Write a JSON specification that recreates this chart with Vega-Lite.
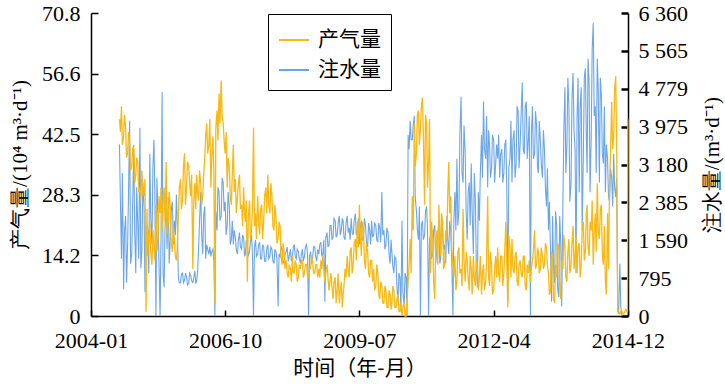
{
  "$schema": "https://vega.github.io/schema/vega-lite/v6.json",
  "width": 537,
  "height": 303,
  "autosize": {"type": "none"},
  "padding": {"left": 91, "top": 13, "right": 97, "bottom": 68},
  "background": "white",
  "config": {
    "view": {"stroke": null},
    "font": "Liberation Serif",
    "axis": {
      "grid": false,
      "domainColor": "black",
      "domainWidth": 1.5,
      "tickColor": "black",
      "labelColor": "black",
      "titleColor": "black",
      "labelFont": "Liberation Serif",
      "labelFontSize": 22,
      "titleFont": "Liberation Serif",
      "titleFontSize": 21,
      "titleFontWeight": "normal"
    },
    "legend": {
      "labelFont": "Noto Sans CJK SC",
      "labelFontSize": 21,
      "labelColor": "black"
    }
  },
  "data": {"values": [
    {"d":"2004-08-01","g":46,"w":3600},{"d":"2004-08-08","g":43,"w":2400},{"d":"2004-08-16","g":49,"w":1200},{"d":"2004-08-23","g":40,"w":3000},
    {"d":"2004-09-01","g":42,"w":560},{"d":"2004-09-08","g":47,"w":1800},{"d":"2004-09-16","g":44,"w":2100},{"d":"2004-09-23","g":37,"w":700},
    {"d":"2004-10-01","g":38,"w":1500},{"d":"2004-10-08","g":43,"w":2600},{"d":"2004-10-16","g":41,"w":4100},{"d":"2004-10-23","g":34,"w":1100},
    {"d":"2004-11-01","g":35,"w":1300},{"d":"2004-11-08","g":39,"w":2400},{"d":"2004-11-16","g":40,"w":3500},{"d":"2004-11-23","g":31,"w":1800},
    {"d":"2004-12-01","g":33,"w":900},{"d":"2004-12-08","g":37,"w":2700},{"d":"2004-12-16","g":36,"w":1900},{"d":"2004-12-23","g":29,"w":1200},
    {"d":"2005-01-01","g":30,"w":3950},{"d":"2005-01-08","g":27,"w":1000},{"d":"2005-01-16","g":34,"w":1400},{"d":"2005-01-23","g":29,"w":2800},
    {"d":"2005-02-01","g":28,"w":2300},{"d":"2005-02-08","g":32,"w":500},{"d":"2005-02-16","g":1,"w":700},{"d":"2005-02-23","g":25,"w":1900},
    {"d":"2005-03-01","g":14,"w":1800},{"d":"2005-03-08","g":19,"w":900},{"d":"2005-03-16","g":22,"w":3400},{"d":"2005-03-23","g":15,"w":2100},
    {"d":"2005-04-01","g":12,"w":1500},{"d":"2005-04-08","g":20,"w":3100},{"d":"2005-04-16","g":16,"w":3700},{"d":"2005-04-23","g":13,"w":2500},
    {"d":"2005-05-01","g":26,"w":0},{"d":"2005-05-08","g":15,"w":2900},{"d":"2005-05-16","g":18,"w":2200},{"d":"2005-05-23","g":28,"w":1200},
    {"d":"2005-06-01","g":24,"w":0},{"d":"2005-06-08","g":30,"w":1700},{"d":"2005-06-16","g":20,"w":4700},{"d":"2005-06-23","g":27,"w":900},
    {"d":"2005-07-01","g":30,"w":600},{"d":"2005-07-08","g":22,"w":1900},{"d":"2005-07-16","g":36,"w":2300},{"d":"2005-07-23","g":19,"w":1400},
    {"d":"2005-08-01","g":22,"w":2500},{"d":"2005-08-08","g":29,"w":1100},{"d":"2005-08-16","g":26,"w":1600},{"d":"2005-08-23","g":17,"w":2200},
    {"d":"2005-09-01","g":15,"w":2400},{"d":"2005-09-08","g":21,"w":1500},{"d":"2005-09-16","g":18,"w":2000},{"d":"2005-09-23","g":14,"w":1700},
    {"d":"2005-10-01","g":13,"w":2550},{"d":"2005-10-08","g":16,"w":1900},{"d":"2005-10-16","g":24,"w":800},{"d":"2005-10-23","g":30,"w":700},
    {"d":"2005-11-01","g":32,"w":700},{"d":"2005-11-08","g":25,"w":880},{"d":"2005-11-16","g":27,"w":900},{"d":"2005-11-23","g":35,"w":700},
    {"d":"2005-12-01","g":38,"w":750},{"d":"2005-12-08","g":26,"w":900},{"d":"2005-12-16","g":30,"w":820},{"d":"2005-12-23","g":36,"w":650},
    {"d":"2006-01-01","g":35,"w":680},{"d":"2006-01-08","g":31,"w":900},{"d":"2006-01-16","g":28,"w":850},{"d":"2006-01-23","g":33,"w":740},
    {"d":"2006-02-01","g":11,"w":700},{"d":"2006-02-08","g":27,"w":800},{"d":"2006-02-16","g":31,"w":950},{"d":"2006-02-23","g":25,"w":680},
    {"d":"2006-03-01","g":33,"w":720},{"d":"2006-03-08","g":29,"w":900},{"d":"2006-03-16","g":27,"w":1400},{"d":"2006-03-23","g":34,"w":2000},
    {"d":"2006-04-01","g":31,"w":2600},{"d":"2006-04-08","g":26,"w":1700},{"d":"2006-04-16","g":28,"w":1300},{"d":"2006-04-23","g":33,"w":2100},
    {"d":"2006-05-01","g":37,"w":2300},{"d":"2006-05-08","g":42,"w":1200},{"d":"2006-05-16","g":45,"w":1500},{"d":"2006-05-23","g":38,"w":1400},
    {"d":"2006-06-01","g":40,"w":1300},{"d":"2006-06-08","g":46,"w":1450},{"d":"2006-06-16","g":30,"w":1250},{"d":"2006-06-23","g":37,"w":1350},
    {"d":"2006-07-01","g":42,"w":1400},{"d":"2006-07-08","g":34,"w":1200},{"d":"2006-07-16","g":3,"w":0},{"d":"2006-07-23","g":44,"w":2200},
    {"d":"2006-08-01","g":48,"w":1800},{"d":"2006-08-08","g":41,"w":2700},{"d":"2006-08-16","g":52,"w":2600},{"d":"2006-08-23","g":45,"w":2000},
    {"d":"2006-09-01","g":55,"w":2100},{"d":"2006-09-08","g":47,"w":2900},{"d":"2006-09-16","g":45,"w":2800},{"d":"2006-09-23","g":41,"w":2200},
    {"d":"2006-10-01","g":38,"w":2400},{"d":"2006-10-08","g":43,"w":1700},{"d":"2006-10-16","g":30,"w":1900},{"d":"2006-10-23","g":37,"w":2600},
    {"d":"2006-11-01","g":35,"w":2300},{"d":"2006-11-08","g":28,"w":1500},{"d":"2006-11-16","g":26,"w":1600},{"d":"2006-11-23","g":33,"w":2000},
    {"d":"2006-12-01","g":40,"w":1500},{"d":"2006-12-08","g":29,"w":1800},{"d":"2006-12-16","g":32,"w":1650},{"d":"2006-12-23","g":24,"w":1400},
    {"d":"2007-01-01","g":28,"w":1300},{"d":"2007-01-08","g":31,"w":1600},{"d":"2007-01-16","g":33,"w":1750},{"d":"2007-01-23","g":25,"w":1450},
    {"d":"2007-02-01","g":26,"w":1400},{"d":"2007-02-08","g":21,"w":1700},{"d":"2007-02-16","g":30,"w":1650},{"d":"2007-02-23","g":24,"w":1250},
    {"d":"2007-03-01","g":22,"w":1300},{"d":"2007-03-08","g":27,"w":1600},{"d":"2007-03-16","g":8,"w":1500},{"d":"2007-03-23","g":23,"w":1250},
    {"d":"2007-04-01","g":27,"w":1350},{"d":"2007-04-08","g":18,"w":1550},{"d":"2007-04-16","g":20,"w":1700},{"d":"2007-04-23","g":25,"w":1300},
    {"d":"2007-05-01","g":44,"w":0},{"d":"2007-05-08","g":21,"w":1450},{"d":"2007-05-16","g":24,"w":1600},{"d":"2007-05-23","g":18,"w":1250},
    {"d":"2007-06-01","g":28,"w":1300},{"d":"2007-06-08","g":22,"w":1500},{"d":"2007-06-16","g":19,"w":1550},{"d":"2007-06-23","g":25,"w":1200},
    {"d":"2007-07-01","g":26,"w":1200},{"d":"2007-07-08","g":18,"w":1500},{"d":"2007-07-16","g":22,"w":1450},{"d":"2007-07-23","g":28,"w":1150},
    {"d":"2007-08-01","g":30,"w":1150},{"d":"2007-08-08","g":24,"w":1400},{"d":"2007-08-16","g":33,"w":1500},{"d":"2007-08-23","g":26,"w":1200},
    {"d":"2007-09-01","g":24,"w":1250},{"d":"2007-09-08","g":31,"w":1450},{"d":"2007-09-16","g":28,"w":1400},{"d":"2007-09-23","g":21,"w":1150},
    {"d":"2007-10-01","g":20,"w":1100},{"d":"2007-10-08","g":26,"w":1400},{"d":"2007-10-16","g":23,"w":1350},{"d":"2007-10-23","g":17,"w":1200},
    {"d":"2007-11-01","g":18,"w":200},{"d":"2007-11-08","g":22,"w":1300},{"d":"2007-11-16","g":21,"w":1250},{"d":"2007-11-23","g":14,"w":1450},
    {"d":"2007-12-01","g":12,"w":1400},{"d":"2007-12-08","g":17,"w":1150},{"d":"2007-12-16","g":15,"w":1100},{"d":"2007-12-23","g":11,"w":1300},
    {"d":"2008-01-01","g":13,"w":1350},{"d":"2008-01-08","g":10,"w":1450},{"d":"2008-01-16","g":9,"w":1150},{"d":"2008-01-23","g":12,"w":1250},
    {"d":"2008-02-01","g":11,"w":1400},{"d":"2008-02-08","g":8,"w":1150},{"d":"2008-02-16","g":14,"w":1250},{"d":"2008-02-23","g":10,"w":1450},
    {"d":"2008-03-01","g":10,"w":1500},{"d":"2008-03-08","g":13,"w":1250},{"d":"2008-03-16","g":12,"w":1200},{"d":"2008-03-23","g":8,"w":1400},
    {"d":"2008-04-01","g":9,"w":1350},{"d":"2008-04-08","g":12,"w":1200},{"d":"2008-04-16","g":11,"w":1100},{"d":"2008-04-23","g":13,"w":1300},
    {"d":"2008-05-01","g":13,"w":1400},{"d":"2008-05-08","g":9,"w":1150},{"d":"2008-05-16","g":10,"w":1250},{"d":"2008-05-23","g":12,"w":1450},
    {"d":"2008-06-01","g":12,"w":1500},{"d":"2008-06-08","g":10,"w":1300},{"d":"2008-06-16","g":9,"w":0},{"d":"2008-06-23","g":11,"w":1250},
    {"d":"2008-07-01","g":11,"w":1350},{"d":"2008-07-08","g":14,"w":1100},{"d":"2008-07-16","g":13,"w":1200},{"d":"2008-07-23","g":10,"w":1450},
    {"d":"2008-08-01","g":10,"w":1450},{"d":"2008-08-08","g":12,"w":1250},{"d":"2008-08-16","g":12,"w":1150},{"d":"2008-08-23","g":9,"w":1400},
    {"d":"2008-09-01","g":11,"w":1300},{"d":"2008-09-08","g":9,"w":1500},{"d":"2008-09-16","g":13,"w":1550},{"d":"2008-09-23","g":11,"w":1250},
    {"d":"2008-10-01","g":14,"w":1300},{"d":"2008-10-08","g":11,"w":1600},{"d":"2008-10-16","g":8,"w":300},{"d":"2008-10-23","g":10,"w":1650},
    {"d":"2008-11-01","g":12,"w":1750},{"d":"2008-11-08","g":9,"w":1450},{"d":"2008-11-16","g":6,"w":1500},{"d":"2008-11-23","g":8,"w":1900},
    {"d":"2008-12-01","g":10,"w":1900},{"d":"2008-12-08","g":7,"w":1600},{"d":"2008-12-16","g":4,"w":1650},{"d":"2008-12-23","g":8,"w":2050},
    {"d":"2009-01-01","g":9,"w":2000},{"d":"2009-01-08","g":3,"w":1650},{"d":"2009-01-16","g":6,"w":1700},{"d":"2009-01-23","g":10,"w":1950},
    {"d":"2009-02-01","g":3,"w":2100},{"d":"2009-02-08","g":6,"w":1700},{"d":"2009-02-16","g":8,"w":1800},{"d":"2009-02-23","g":2,"w":2050},
    {"d":"2009-03-01","g":5,"w":2000},{"d":"2009-03-08","g":7,"w":1650},{"d":"2009-03-16","g":11,"w":1600},{"d":"2009-03-23","g":9,"w":1950},
    {"d":"2009-04-01","g":14,"w":2100},{"d":"2009-04-08","g":11,"w":1750},{"d":"2009-04-16","g":9,"w":1850},{"d":"2009-04-23","g":15,"w":1600},
    {"d":"2009-05-01","g":16,"w":2050},{"d":"2009-05-08","g":10,"w":1750},{"d":"2009-05-16","g":12,"w":1700},{"d":"2009-05-23","g":17,"w":2000},
    {"d":"2009-06-01","g":18,"w":2150},{"d":"2009-06-08","g":13,"w":1700},{"d":"2009-06-16","g":22,"w":1800},{"d":"2009-06-23","g":16,"w":2050},
    {"d":"2009-07-01","g":26,"w":1500},{"d":"2009-07-08","g":19,"w":1850},{"d":"2009-07-16","g":14,"w":2000},{"d":"2009-07-23","g":22,"w":1600},
    {"d":"2009-08-01","g":20,"w":1650},{"d":"2009-08-08","g":13,"w":2050},{"d":"2009-08-16","g":11,"w":1900},{"d":"2009-08-23","g":17,"w":1550},
    {"d":"2009-09-01","g":15,"w":1450},{"d":"2009-09-08","g":10,"w":1950},{"d":"2009-09-16","g":9,"w":1800},{"d":"2009-09-23","g":13,"w":1500},
    {"d":"2009-10-01","g":13,"w":2000},{"d":"2009-10-08","g":8,"w":1650},{"d":"2009-10-16","g":11,"w":1700},{"d":"2009-10-23","g":6,"w":1950},
    {"d":"2009-11-01","g":7,"w":1900},{"d":"2009-11-08","g":12,"w":1600},{"d":"2009-11-16","g":10,"w":1550},{"d":"2009-11-23","g":5,"w":1950},
    {"d":"2009-12-01","g":4,"w":1850},{"d":"2009-12-08","g":8,"w":1550},{"d":"2009-12-16","g":7,"w":2600},{"d":"2009-12-23","g":3,"w":1700},
    {"d":"2010-01-01","g":3,"w":1800},{"d":"2010-01-08","g":7,"w":1400},{"d":"2010-01-16","g":6,"w":1500},{"d":"2010-01-23","g":2,"w":1850},
    {"d":"2010-02-01","g":2,"w":1750},{"d":"2010-02-08","g":6,"w":1300},{"d":"2010-02-16","g":5,"w":1100},{"d":"2010-02-23","g":1.5,"w":1600},
    {"d":"2010-03-01","g":3,"w":1350},{"d":"2010-03-08","g":7,"w":1050},{"d":"2010-03-16","g":6,"w":900},{"d":"2010-03-23","g":2,"w":1250},
    {"d":"2010-04-01","g":2,"w":1200},{"d":"2010-04-08","g":4,"w":600},{"d":"2010-04-16","g":5,"w":300},{"d":"2010-04-23","g":1,"w":900},
    {"d":"2010-05-01","g":1,"w":800},{"d":"2010-05-08","g":3,"w":100},{"d":"2010-05-16","g":0,"w":2000},{"d":"2010-05-23","g":2,"w":500},
    {"d":"2010-06-01","g":3,"w":200},{"d":"2010-06-08","g":0,"w":900},{"d":"2010-06-16","g":0,"w":800},{"d":"2010-06-23","g":4,"w":0},
    {"d":"2010-07-01","g":8,"w":3800},{"d":"2010-07-08","g":12,"w":3500},{"d":"2010-07-16","g":18,"w":4100},{"d":"2010-07-23","g":10,"w":3700},
    {"d":"2010-08-01","g":28,"w":3700},{"d":"2010-08-08","g":20,"w":4000},{"d":"2010-08-16","g":45,"w":4200},{"d":"2010-08-23","g":35,"w":2500},
    {"d":"2010-09-01","g":38,"w":2200},{"d":"2010-09-08","g":47,"w":1800},{"d":"2010-09-16","g":48,"w":1600},{"d":"2010-09-23","g":40,"w":2300},
    {"d":"2010-10-01","g":44,"w":0},{"d":"2010-10-08","g":49,"w":1900},{"d":"2010-10-16","g":51,"w":2000},{"d":"2010-10-23","g":42,"w":1600},
    {"d":"2010-11-01","g":26,"w":1700},{"d":"2010-11-08","g":47,"w":2200},{"d":"2010-11-16","g":45,"w":2300},{"d":"2010-11-23","g":30,"w":1800},
    {"d":"2010-12-01","g":36,"w":0},{"d":"2010-12-08","g":46,"w":1600},{"d":"2010-12-16","g":10,"w":1700},{"d":"2010-12-23","g":22,"w":1200},
    {"d":"2011-01-01","g":18,"w":1300},{"d":"2011-01-08","g":8,"w":1800},{"d":"2011-01-16","g":4,"w":1900},{"d":"2011-01-23","g":15,"w":1100},
    {"d":"2011-02-01","g":20,"w":1400},{"d":"2011-02-08","g":12,"w":1650},{"d":"2011-02-16","g":26,"w":2000},{"d":"2011-02-23","g":18,"w":1100},
    {"d":"2011-03-01","g":14,"w":1200},{"d":"2011-03-08","g":24,"w":2100},{"d":"2011-03-16","g":22,"w":1800},{"d":"2011-03-23","g":11,"w":1400},
    {"d":"2011-04-01","g":12,"w":1500},{"d":"2011-04-08","g":20,"w":1100},{"d":"2011-04-16","g":18,"w":2100},{"d":"2011-04-23","g":28,"w":1600},
    {"d":"2011-05-01","g":36,"w":1300},{"d":"2011-05-08","g":24,"w":2000},{"d":"2011-05-16","g":28,"w":1800},{"d":"2011-05-23","g":16,"w":1200},
    {"d":"2011-06-01","g":12,"w":0},{"d":"2011-06-08","g":9,"w":2000},{"d":"2011-06-16","g":14,"w":2600},{"d":"2011-06-23","g":6,"w":1800},
    {"d":"2011-07-01","g":8,"w":3300},{"d":"2011-07-08","g":15,"w":1900},{"d":"2011-07-16","g":16,"w":2200},{"d":"2011-07-23","g":10,"w":3800},
    {"d":"2011-08-01","g":11,"w":4600},{"d":"2011-08-08","g":7,"w":3000},{"d":"2011-08-16","g":25,"w":2800},{"d":"2011-08-23","g":13,"w":4000},
    {"d":"2011-09-01","g":8,"w":3400},{"d":"2011-09-08","g":15,"w":2200},{"d":"2011-09-16","g":13,"w":1600},{"d":"2011-09-23","g":9,"w":2600},
    {"d":"2011-10-01","g":6,"w":2800},{"d":"2011-10-08","g":14,"w":1900},{"d":"2011-10-16","g":11,"w":3200},{"d":"2011-10-23","g":5,"w":2200},
    {"d":"2011-11-01","g":14,"w":1300},{"d":"2011-11-08","g":9,"w":3000},{"d":"2011-11-16","g":7,"w":2400},{"d":"2011-11-23","g":13,"w":1100},
    {"d":"2011-12-01","g":12,"w":600},{"d":"2011-12-08","g":6,"w":2600},{"d":"2011-12-16","g":9,"w":2000},{"d":"2011-12-23","g":14,"w":3000},
    {"d":"2012-01-01","g":5,"w":3800},{"d":"2012-01-08","g":10,"w":2900},{"d":"2012-01-16","g":12,"w":4500},{"d":"2012-01-23","g":6,"w":3500},
    {"d":"2012-02-01","g":8,"w":3300},{"d":"2012-02-08","g":13,"w":4200},{"d":"2012-02-16","g":28,"w":2700},{"d":"2012-02-23","g":9,"w":3900},
    {"d":"2012-03-01","g":7,"w":3600},{"d":"2012-03-08","g":15,"w":2900},{"d":"2012-03-16","g":12,"w":3100},{"d":"2012-03-23","g":5,"w":3800},
    {"d":"2012-04-01","g":6,"w":3700},{"d":"2012-04-08","g":11,"w":2800},{"d":"2012-04-16","g":14,"w":3200},{"d":"2012-04-23","g":9,"w":3600},
    {"d":"2012-05-01","g":16,"w":3300},{"d":"2012-05-08","g":10,"w":3800},{"d":"2012-05-16","g":8,"w":2900},{"d":"2012-05-23","g":14,"w":3400},
    {"d":"2012-06-01","g":14,"w":3500},{"d":"2012-06-08","g":7,"w":2800},{"d":"2012-06-16","g":10,"w":3000},{"d":"2012-06-23","g":15,"w":3600},
    {"d":"2012-07-01","g":22,"w":3700},{"d":"2012-07-08","g":12,"w":2700},{"d":"2012-07-16","g":2,"w":300},{"d":"2012-07-23","g":19,"w":3100},
    {"d":"2012-08-01","g":16,"w":3300},{"d":"2012-08-08","g":9,"w":4100},{"d":"2012-08-16","g":18,"w":2800},{"d":"2012-08-23","g":11,"w":3700},
    {"d":"2012-09-01","g":10,"w":3900},{"d":"2012-09-08","g":14,"w":2900},{"d":"2012-09-16","g":15,"w":3200},{"d":"2012-09-23","g":8,"w":4400},
    {"d":"2012-10-01","g":7,"w":4300},{"d":"2012-10-08","g":12,"w":3100},{"d":"2012-10-16","g":13,"w":3600},{"d":"2012-10-23","g":10,"w":4200},
    {"d":"2012-11-01","g":9,"w":4900},{"d":"2012-11-08","g":14,"w":3500},{"d":"2012-11-16","g":14,"w":3400},{"d":"2012-11-23","g":7,"w":4400},
    {"d":"2012-12-01","g":6,"w":4500},{"d":"2012-12-08","g":12,"w":3300},{"d":"2012-12-16","g":10,"w":3700},{"d":"2012-12-23","g":13,"w":4200},
    {"d":"2013-01-01","g":8,"w":0},{"d":"2013-01-08","g":11,"w":3800},{"d":"2013-01-16","g":13,"w":4400},{"d":"2013-01-23","g":15,"w":3300},
    {"d":"2013-02-01","g":20,"w":3400},{"d":"2013-02-08","g":11,"w":4300},{"d":"2013-02-16","g":12,"w":4000},{"d":"2013-02-23","g":16,"w":3100},
    {"d":"2013-03-01","g":15,"w":3000},{"d":"2013-03-08","g":10,"w":4100},{"d":"2013-03-16","g":11,"w":3700},{"d":"2013-03-23","g":16,"w":3200},
    {"d":"2013-04-01","g":14,"w":2900},{"d":"2013-04-08","g":11,"w":3900},{"d":"2013-04-16","g":12,"w":3500},{"d":"2013-04-23","g":17,"w":2700},
    {"d":"2013-05-01","g":16,"w":2300},{"d":"2013-05-08","g":12,"w":3100},{"d":"2013-05-16","g":10,"w":1800},{"d":"2013-05-23","g":5,"w":2400},
    {"d":"2013-06-01","g":6,"w":1200},{"d":"2013-06-08","g":15,"w":300},{"d":"2013-06-16","g":14,"w":2100},{"d":"2013-06-23","g":4,"w":1000},
    {"d":"2013-07-01","g":3,"w":700},{"d":"2013-07-08","g":12,"w":2200},{"d":"2013-07-16","g":9,"w":1900},{"d":"2013-07-23","g":17,"w":600},
    {"d":"2013-08-01","g":16,"w":400},{"d":"2013-08-08","g":7,"w":2100},{"d":"2013-08-16","g":4,"w":1500},{"d":"2013-08-23","g":13,"w":200},
    {"d":"2013-09-01","g":11,"w":2400},{"d":"2013-09-08","g":19,"w":3900},{"d":"2013-09-16","g":16,"w":4800},{"d":"2013-09-23","g":9,"w":3000},
    {"d":"2013-10-01","g":8,"w":3600},{"d":"2013-10-08","g":15,"w":5000},{"d":"2013-10-16","g":18,"w":4400},{"d":"2013-10-23","g":10,"w":2400},
    {"d":"2013-11-01","g":12,"w":2800},{"d":"2013-11-08","g":17,"w":4600},{"d":"2013-11-16","g":21,"w":5100},{"d":"2013-11-23","g":11,"w":3900},
    {"d":"2013-12-01","g":14,"w":3500},{"d":"2013-12-08","g":19,"w":900},{"d":"2013-12-16","g":10,"w":4200},{"d":"2013-12-23","g":16,"w":5000},
    {"d":"2014-01-01","g":17,"w":2600},{"d":"2014-01-08","g":9,"w":4400},{"d":"2014-01-16","g":12,"w":4800},{"d":"2014-01-23","g":20,"w":1800},
    {"d":"2014-02-01","g":22,"w":3400},{"d":"2014-02-08","g":13,"w":5000},{"d":"2014-02-16","g":15,"w":5200},{"d":"2014-02-23","g":24,"w":3800},
    {"d":"2014-03-01","g":26,"w":3000},{"d":"2014-03-08","g":16,"w":5400},{"d":"2014-03-16","g":14,"w":4900},{"d":"2014-03-23","g":22,"w":2600},
    {"d":"2014-04-01","g":20,"w":3800},{"d":"2014-04-08","g":27,"w":5600},{"d":"2014-04-16","g":12,"w":6150},{"d":"2014-04-23","g":19,"w":4200},
    {"d":"2014-05-01","g":24,"w":4400},{"d":"2014-05-08","g":15,"w":3000},{"d":"2014-05-16","g":31,"w":5400},{"d":"2014-05-23","g":20,"w":4800},
    {"d":"2014-06-01","g":18,"w":2800},{"d":"2014-06-08","g":25,"w":5000},{"d":"2014-06-16","g":26,"w":4600},{"d":"2014-06-23","g":14,"w":3400},
    {"d":"2014-07-01","g":12,"w":3200},{"d":"2014-07-08","g":21,"w":4400},{"d":"2014-07-16","g":8,"w":2600},{"d":"2014-07-23","g":5,"w":3600},
    {"d":"2014-08-01","g":24,"w":3300},{"d":"2014-08-08","g":11,"w":2500},{"d":"2014-08-16","g":30,"w":2400},{"d":"2014-08-23","g":38,"w":3100},
    {"d":"2014-09-01","g":50,"w":2900},{"d":"2014-09-08","g":39,"w":2300},{"d":"2014-09-16","g":42,"w":3400},{"d":"2014-09-23","g":53,"w":2700},
    {"d":"2014-10-01","g":56,"w":2500},{"d":"2014-10-08","g":40,"w":2900},{"d":"2014-10-16","g":2,"w":100},{"d":"2014-10-23","g":1,"w":50},
    {"d":"2014-11-01","g":0.5,"w":1100},{"d":"2014-11-08","g":1,"w":200},{"d":"2014-11-16","g":1,"w":0},{"d":"2014-11-23","g":0.5,"w":null},
    {"d":"2014-12-01","g":0.5,"w":null},{"d":"2014-12-08","g":1,"w":null},{"d":"2014-12-16","g":1.5,"w":null},{"d":"2014-12-23","g":1,"w":null},
    {"d":"2014-12-28","g":1,"w":null},{"d":"2014-12-31","g":46,"w":null}
  ]},
  "encoding": {
    "x": {
      "field": "d", "type": "temporal",
      "scale": {"domain": [{"year": 2004, "month": 1, "date": 1}, {"year": 2015, "month": 1, "date": 1}], "nice": false},
      "axis": {
        "title": "时间（年-月）",
        "titleFont": "Noto Sans CJK SC",
        "format": "%Y-%m",
        "values": [{"year": 2004, "month": 1, "date": 1}, {"year": 2006, "month": 10, "date": 1}, {"year": 2009, "month": 7, "date": 1}, {"year": 2012, "month": 4, "date": 1}, {"year": 2014, "month": 12, "date": 31}],
        "tickSize": -6,
        "tickWidth": 1.5,
        "labelPadding": 20,
        "labelFlush": false,
        "labelOverlap": false,
        "titlePadding": 6
      }
    }
  },
  "layer": [
    {
      "mark": {"type": "line", "strokeWidth": 1.1, "interpolate": "linear"},
      "encoding": {
        "y": {
          "field": "w", "type": "quantitative",
          "scale": {"domain": [0, 6360], "nice": false, "zero": true},
          "axis": {
            "orient": "right",
            "title": "注水量/(m³·d⁻¹)",
            "titleAngle": 270,
            "titleBaseline": "top",
            "values": [0, 795, 1590, 2385, 3180, 3975, 4770, 5565, 6360],
            "labelExpr": "datum.value == 4770 ? '4 779' : replace(format(datum.value, ','), ',', ' ')",
            "tickSize": -7,
            "tickWidth": 2.5,
            "labelPadding": 17,
            "titlePadding": 14
          }
        },
        "color": {"datum": "注水量"}
      }
    },
    {
      "mark": {"type": "line", "strokeWidth": 1.3, "interpolate": "linear"},
      "encoding": {
        "y": {
          "field": "g", "type": "quantitative",
          "scale": {"domain": [0, 70.8], "nice": false, "zero": true},
          "axis": {
            "orient": "left",
            "title": "产气量/(10⁴ m³·d⁻¹)",
            "values": [0, 14.16, 28.32, 42.48, 56.64, 70.8],
            "labelExpr": "datum.value == 0 ? '0' : format(datum.value, '.1f')",
            "tickSize": -7,
            "tickWidth": 1.5,
            "labelPadding": 18,
            "titlePadding": 11
          }
        },
        "color": {
          "datum": "产气量",
          "scale": {"domain": ["产气量", "注水量"], "range": ["#F8B914", "#6CA6E8"]},
          "legend": {
            "title": null,
            "orient": "none",
            "legendX": 177,
            "legendY": 1,
            "symbolType": "stroke",
            "symbolSize": 900,
            "symbolStrokeWidth": 2,
            "strokeColor": "black",
            "padding": 10,
            "rowPadding": 4,
            "labelOffset": 8,
            "cornerRadius": 0
          }
        }
      }
    }
  ],
  "resolve": {"scale": {"y": "independent"}}
}
